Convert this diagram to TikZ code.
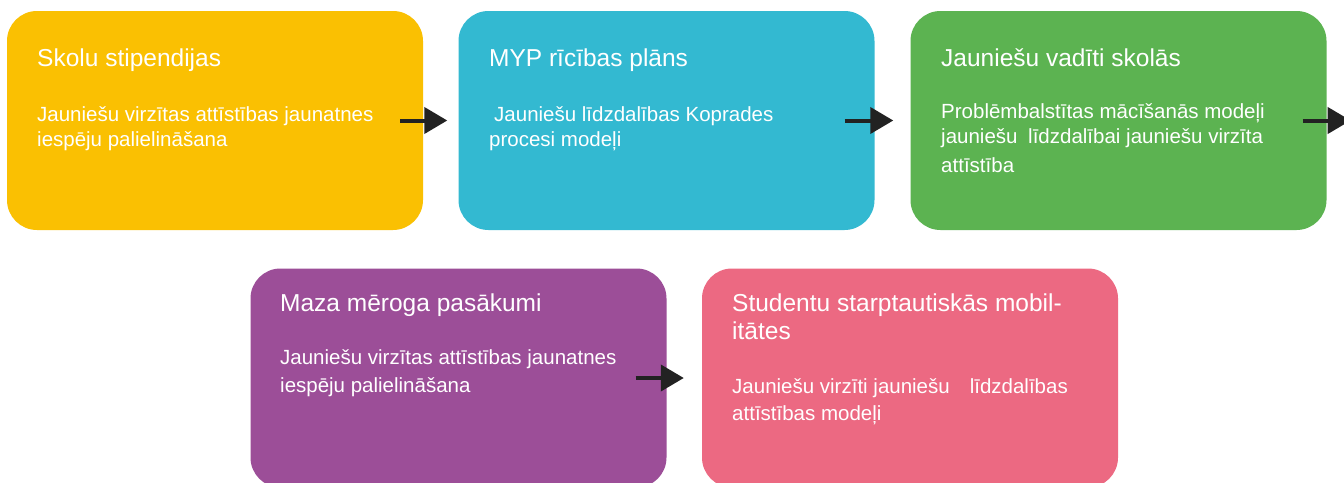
\documentclass[tikz,border=0pt]{standalone}
\usepackage{fontspec}
\setmainfont{Liberation Sans}
\usetikzlibrary{arrows.meta}
\definecolor{cyellow}{HTML}{FAC002}
\definecolor{cteal}{HTML}{33B9D1}
\definecolor{cgreen}{HTML}{5CB351}
\definecolor{cpurple}{HTML}{9C4E98}
\definecolor{cpink}{HTML}{EC6982}
\definecolor{carrow}{HTML}{222222}
\tikzset{
  card/.style={rounded corners=30pt, minimum width=416pt, minimum height=219pt, inner sep=0pt, draw=none},
  ttl/.style={anchor=base west, inner sep=0pt, text=white, font=\fontsize{24.5}{29}\selectfont},
  bdy/.style={anchor=base west, inner sep=0pt, text=white, font=\fontsize{20.5}{24}\selectfont},
  flow/.style={draw=carrow, line width=4pt, -{Triangle[length=23pt,width=26pt]}}
}
\begin{document}
\begin{tikzpicture}[x=1pt,y=-1pt]
\useasboundingbox (0,0) rectangle (1344,482);
\clip (0,0) rectangle (1344,482);
\fill[white] (0,0) rectangle (1344,482);
% cards
\node[card, fill=cyellow] (b1) at (215,120.5) {};
\node[card, fill=cteal] (b2) at (666.5,120.5) {};
\node[card, fill=cgreen] (b3) at (1118.5,120.5) {};
\node[card, fill=cpurple] (b4) at (458.5,378) {};
\node[card, fill=cpink] (b5) at (910,378) {};
% texts box 1
\node[ttl] (t1) at (37,66) {Skolu stipendijas};
\node[bdy] (t1a) at (37,121) {Jaunie\v{s}u virz\={\i}tas att\={\i}st\={\i}bas jaunatnes};
\node[bdy] (t1b) at (37,146) {iesp\={e}ju palielin\={a}\v{s}ana};
% box 2
\node[ttl] (t2) at (489,66) {MYP r\={\i}c\={\i}bas pl\={a}ns};
\node[bdy] (t2a) at (494,121) {Jaunie\v{s}u l\={\i}dzdal\={\i}bas Koprades};
\node[bdy] (t2b) at (489,146) {procesi mode\c{l}i};
% box 3
\node[ttl] (t3) at (941,66) {Jaunie\v{s}u vad\={\i}ti skol\={a}s};
\node[bdy] (t3a) at (941,118) {Probl\={e}mbalst\={\i}tas m\={a}c\={\i}\v{s}an\={a}s mode\c{l}i};
\node[bdy] (t3b) at (941,143) {jaunie\v{s}u\hspace{5pt} l\={\i}dzdal\={\i}bai jaunie\v{s}u virz\={\i}ta};
\node[bdy] (t3c) at (941,172) {att\={\i}st\={\i}ba};
% box 4
\node[ttl] (t4) at (280,311) {Maza m\={e}roga pas\={a}kumi};
\node[bdy] (t4a) at (280,364) {Jaunie\v{s}u virz\={\i}tas att\={\i}st\={\i}bas jaunatnes};
\node[bdy] (t4b) at (280,392) {iesp\={e}ju palielin\={a}\v{s}ana};
% box 5
\node[ttl] (t5) at (732,311) {Studentu starptautisk\={a}s mobil-};
\node[ttl] (t5b) at (732,339) {it\={a}tes};
\node[bdy] (t5c) at (732,393) {Jaunie\v{s}u virz\={\i}ti jaunie\v{s}u\hspace{20pt}l\={\i}dzdal\={\i}bas};
\node[bdy] (t5d) at (732,420) {att\={\i}st\={\i}bas mode\c{l}i};
% arrows
\coordinate (a1s) at ([xshift=-23pt]b1.east);
\coordinate (a1e) at ([xshift=-11pt]b2.west);
\coordinate (a2s) at ([xshift=-30pt]b2.east);
\coordinate (a2e) at ([xshift=-17pt]b3.west);
\coordinate (a3s) at ([xshift=-24pt]b3.east);
\coordinate (a3e) at ([xshift=24pt]b3.east);
\coordinate (a4s) at ([xshift=-31pt]b4.east);
\coordinate (a4e) at ([xshift=-18pt]b5.west);
\draw[flow] (a1s) -- (a1e);
\draw[flow] (a2s) -- (a2e);
\draw[flow] (a3s) -- (a3e);
\draw[flow] (a4s) -- (a4e);
\end{tikzpicture}
\end{document}
